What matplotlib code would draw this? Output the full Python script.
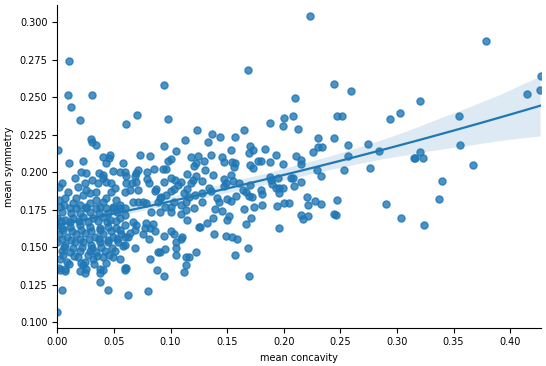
import numpy as np
import pandas as pd
import matplotlib
matplotlib.use("Agg")
import matplotlib.pyplot as plt
import seaborn as sns

# mean concavity / mean symmetry pairs
sparse_x = [0.223, 0.3786, 0.0105, 0.168, 0.094, 0.244, 0.259, 0.210, 0.208, 0.200, 0.1875, 0.247, 0.251, 0.294, 0.303,
            0.009, 0.031, 0.0118, 0.0197, 0.061, 0.070, 0.098, 0.123, 0.1125, 0.0946, 0.0295, 0.031, 0.034]
sparse_y = [0.304, 0.2874, 0.274, 0.268, 0.258, 0.2585, 0.254, 0.2495, 0.2375, 0.236, 0.233, 0.2375, 0.2375, 0.2355, 0.2395,
            0.2515, 0.2515, 0.2435, 0.235, 0.232, 0.238, 0.2355, 0.228, 0.2215, 0.2175, 0.222, 0.220, 0.218]

mid_right_x = [0.199, 0.2125, 0.230, 0.244, 0.226, 0.230, 0.234, 0.257, 0.274, 0.284, 0.257, 0.193, 0.211, 0.215, 0.215,
               0.199, 0.2295, 0.233, 0.2536, 0.276, 0.315, 0.195, 0.206, 0.208, 0.190, 0.193, 0.196, 0.199, 0.196, 0.209,
               0.215, 0.2205, 0.2214, 0.2277, 0.233, 0.247, 0.200, 0.205, 0.215, 0.217, 0.2214, 0.244, 0.246, 0.290,
               0.3036, 0.1955]
mid_right_y = [0.231, 0.229, 0.223, 0.223, 0.2136, 0.217, 0.217, 0.218, 0.219, 0.214, 0.211, 0.2116, 0.211, 0.208, 0.2056,
               0.2056, 0.2017, 0.1977, 0.2017, 0.203, 0.2096, 0.1963, 0.1963, 0.1963, 0.1924, 0.1897, 0.1897, 0.1897, 0.1864, 0.191,
               0.1937, 0.1837, 0.1784, 0.181, 0.179, 0.1817, 0.1797, 0.1797, 0.1718, 0.1691, 0.1711, 0.1724, 0.1718, 0.179,
               0.1698, 0.1631]

far_right_x = [0.3205, 0.3545, 0.415, 0.4268, 0.4264, 0.3554, 0.3205, 0.316, 0.323, 0.367, 0.340, 0.3375, 0.324]
far_right_y = [0.2475, 0.2375, 0.252, 0.264, 0.2545, 0.2183, 0.2136, 0.2096, 0.2096, 0.205, 0.1944, 0.1824, 0.165]

mid_low_x = [0.1375, 0.152, 0.150, 0.1714, 0.132, 0.126, 0.167, 0.1384, 0.149, 0.1545, 0.159, 0.1688, 0.157, 0.1696]
mid_low_y = [0.1698, 0.171, 0.1684, 0.1698, 0.1664, 0.1638, 0.1658, 0.1591, 0.1578, 0.1565, 0.1552, 0.1498, 0.1445, 0.1306]

mid_x = [0.165, 0.1366, 0.1438, 0.157, 0.133, 0.1705, 0.1536, 0.1696, 0.173, 0.183, 0.1357, 0.1455, 0.147, 0.1295, 0.1545,
         0.157, 0.156, 0.177, 0.1795, 0.188, 0.1705, 0.173, 0.130, 0.1375, 0.1536, 0.147, 0.149, 0.147, 0.1607, 0.1277,
         0.1554, 0.1875, 0.189, 0.1705, 0.134, 0.1357, 0.164, 0.167, 0.180, 0.181, 0.1277, 0.158, 0.169, 0.172, 0.141,
         0.143, 0.139, 0.150, 0.1536, 0.1277, 0.181, 0.194, 0.165, 0.1455, 0.174]
mid_y = [0.228, 0.2256, 0.2236, 0.2236, 0.2203, 0.2176, 0.215, 0.213, 0.215, 0.2156, 0.2116, 0.2103, 0.207, 0.2076, 0.207,
         0.2063, 0.2037, 0.2076, 0.2076, 0.207, 0.205, 0.203, 0.2017, 0.1983, 0.1983, 0.1957, 0.193, 0.191, 0.193, 0.1944,
         0.1944, 0.197, 0.195, 0.1917, 0.1897, 0.1877, 0.1884, 0.187, 0.1884, 0.1857, 0.1864, 0.1844, 0.1844, 0.1837, 0.183,
         0.180, 0.1757, 0.1824, 0.181, 0.1804, 0.1784, 0.1777, 0.1757, 0.1744, 0.177]

centre_x = [0.0732, 0.082, 0.1045, 0.100, 0.098, 0.118, 0.124, 0.1223, 0.1205, 0.058, 0.093, 0.0964, 0.0857, 0.0714, 0.0696,
            0.0687, 0.0795, 0.060, 0.0607, 0.1143, 0.1223, 0.100, 0.1036, 0.0795, 0.0938, 0.0607, 0.066, 0.0696, 0.109, 0.107,
            0.118, 0.1196, 0.0813, 0.0643, 0.0714, 0.060, 0.0875, 0.0866, 0.100, 0.1027, 0.1116, 0.1143, 0.116, 0.122, 0.0964,
            0.092, 0.091, 0.089, 0.067, 0.0714, 0.0759, 0.0786, 0.1027, 0.109, 0.1134, 0.0955, 0.100]
centre_y = [0.2116, 0.211, 0.2143, 0.209, 0.2076, 0.2103, 0.211, 0.2063, 0.2043, 0.2063, 0.2023, 0.2023, 0.2023, 0.2017, 0.1997,
            0.1977, 0.2003, 0.2003, 0.1977, 0.199, 0.1977, 0.1963, 0.195, 0.1957, 0.1937, 0.193, 0.193, 0.1937, 0.1937, 0.1917,
            0.193, 0.195, 0.193, 0.1884, 0.1884, 0.187, 0.189, 0.1877, 0.1877, 0.189, 0.1864, 0.189, 0.1837, 0.185, 0.185,
            0.1837, 0.183, 0.180, 0.1804, 0.1804, 0.1804, 0.1797, 0.180, 0.1784, 0.180, 0.177, 0.177]

centre_low_x = [0.083, 0.091, 0.100, 0.109, 0.1134, 0.1205, 0.1143, 0.06, 0.067, 0.0696, 0.0687, 0.0643, 0.0625, 0.06, 0.0786,
                0.0777, 0.082, 0.0848, 0.0866, 0.0759, 0.0813, 0.100, 0.1027, 0.110, 0.109, 0.0938, 0.125, 0.06, 0.0687,
                0.1045, 0.1045, 0.0955, 0.0893, 0.091, 0.1223, 0.1134, 0.116, 0.1134, 0.1045, 0.082, 0.0607, 0.0884, 0.0938,
                0.1116, 0.0804, 0.0625]
centre_low_y = [0.1737, 0.1737, 0.1737, 0.1724, 0.175, 0.1764, 0.1684, 0.1718, 0.1671, 0.1645, 0.1618, 0.1598, 0.1571, 0.1565, 0.1664,
                0.1631, 0.1631, 0.1658, 0.1605, 0.1585, 0.1552, 0.1605, 0.1591, 0.1571, 0.1552, 0.1578, 0.1638, 0.1518, 0.1498,
                0.1532, 0.1498, 0.1485, 0.1465, 0.1465, 0.1465, 0.1432, 0.1432, 0.1385, 0.1445, 0.1419, 0.1359, 0.1346, 0.1306,
                0.1332, 0.1206, 0.118]

left_low_x = [0.0027, 0.007, 0.0196, 0.024, 0.0375, 0.040, 0.060, 0.0045, 0.0375, 0.0446, 0.0]
left_low_y = [0.135, 0.1345, 0.1345, 0.133, 0.133, 0.135, 0.135, 0.1213, 0.1266, 0.1213, 0.1066]

left_x = [0.001, 0.0107, 0.0223, 0.040, 0.0464, 0.0455, 0.0429, 0.0205, 0.025, 0.0366, 0.040, 0.049, 0.0554, 0.0152, 0.0045,
          0.0018, 0.0098, 0.0179, 0.024, 0.031, 0.0357, 0.040, 0.0429, 0.0473, 0.051, 0.0473, 0.025, 0.0286, 0.0223, 0.034,
          0.0161, 0.0071, 0.0018, 0.0134, 0.0063, 0.0196, 0.0286, 0.034, 0.040, 0.0429, 0.0518, 0.0554, 0.0375, 0.025,
          0.0116, 0.0027, 0.049]
left_y = [0.215, 0.2063, 0.2076, 0.210, 0.2116, 0.2096, 0.2063, 0.2003, 0.1997, 0.1997, 0.1983, 0.201, 0.2003, 0.1963, 0.193,
          0.1904, 0.187, 0.1904, 0.193, 0.195, 0.193, 0.1963, 0.1937, 0.193, 0.1897, 0.187, 0.1884, 0.1864, 0.185, 0.187,
          0.183, 0.183, 0.1817, 0.1797, 0.1784, 0.1784, 0.1797, 0.1817, 0.1804, 0.183, 0.1817, 0.1784, 0.1771, 0.1771,
          0.1764, 0.1771, 0.1771]

dense_x = [0.0161, 0.025, 0.0339, 0.0429, 0.0491, 0.0554, 0.0598,
           0.0, 0.0071, 0.0134, 0.0223, 0.0313, 0.0402, 0.0464, 0.0554,
           0.0, 0.0045, 0.0116, 0.0196, 0.0286, 0.0375, 0.0446, 0.0518, 0.0598,
           0.0018, 0.0089, 0.0161, 0.0241, 0.033, 0.0402, 0.0491, 0.0563,
           0.0, 0.0071, 0.0152, 0.0223, 0.0295, 0.0375, 0.0446, 0.0536, 0.058,
           0.0045, 0.0116, 0.0196, 0.0286, 0.0339, 0.042, 0.0509,
           0.0027, 0.0089, 0.0179, 0.0241, 0.0313, 0.0402, 0.0491, 0.0554,
           0.0018, 0.0071, 0.0223, 0.025, 0.0375, 0.0598]
dense_y = [0.1764, 0.1764, 0.1764, 0.1764, 0.1764, 0.1764, 0.1764,
           0.1698, 0.1684, 0.1698, 0.1704, 0.1698, 0.1704, 0.1684, 0.1698,
           0.1651, 0.1631, 0.1638, 0.1651, 0.1638, 0.1631, 0.1638, 0.1631, 0.1651,
           0.1585, 0.1571, 0.1585, 0.1598, 0.1571, 0.1585, 0.1571, 0.1585,
           0.1532, 0.1518, 0.1538, 0.1532, 0.1518, 0.1532, 0.1538, 0.1532, 0.1505,
           0.1472, 0.1465, 0.1472, 0.1472, 0.1465, 0.1472, 0.1472,
           0.1419, 0.1405, 0.1432, 0.1405, 0.1419, 0.1432, 0.1432, 0.1419,
           0.1365, 0.1352, 0.1385, 0.1352, 0.1352, 0.1365]

# second pass over the solid blob near the y axis (points hidden under the first pass)
blob_x = [0.004, 0.012, 0.020, 0.029, 0.037, 0.045, 0.053,
          0.003, 0.011, 0.019, 0.027, 0.036, 0.044, 0.052,
          0.005, 0.013, 0.021, 0.030, 0.038, 0.047, 0.055,
          0.004, 0.012, 0.020, 0.028, 0.037, 0.045, 0.053,
          0.006, 0.014, 0.022, 0.031, 0.039, 0.048,
          0.005, 0.015, 0.027, 0.035, 0.046,
          0.010, 0.021, 0.032, 0.043]
blob_y = [0.1735, 0.1730, 0.1728, 0.1735, 0.1730, 0.1728, 0.1735,
          0.1672, 0.1668, 0.1672, 0.1668, 0.1672, 0.1668, 0.1672,
          0.1612, 0.1605, 0.1612, 0.1608, 0.1612, 0.1605, 0.1612,
          0.1555, 0.1550, 0.1555, 0.1552, 0.1555, 0.1550, 0.1555,
          0.1500, 0.1495, 0.1500, 0.1495, 0.1500, 0.1495,
          0.1445, 0.1440, 0.1445, 0.1440, 0.1445,
          0.1390, 0.1395, 0.1390, 0.1395]

concavity = (sparse_x + mid_right_x + far_right_x + mid_low_x + mid_x + centre_x
             + centre_low_x + left_low_x + left_x + dense_x + blob_x)
symmetry = (sparse_y + mid_right_y + far_right_y + mid_low_y + mid_y + centre_y
            + centre_low_y + left_low_y + left_y + dense_y + blob_y)

df = pd.DataFrame({"mean concavity": concavity, "mean symmetry": symmetry})

plt.rcParams["font.size"] = 7
fig, ax = plt.subplots(figsize=(5.46, 3.66), dpi=100)
# quadratic fit with bootstrap CI band, like the reference
sns.regplot(data=df, x="mean concavity", y="mean symmetry", order=2, ax=ax,
            scatter_kws={"s": 26}, line_kws={"lw": 1.6}, seed=0)
ax.set_xlim(min(concavity), max(concavity))
ax.set_ylim(0.0965, 0.311)
sns.despine(ax=ax)
fig.subplots_adjust(left=0.105, right=0.99, top=0.985, bottom=0.105)
fig.savefig("out.png")
